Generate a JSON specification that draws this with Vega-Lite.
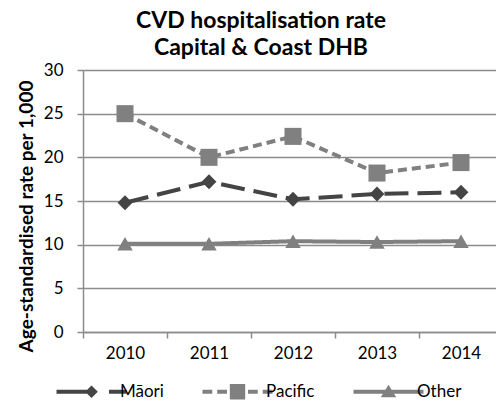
{
  "$schema": "https://vega.github.io/schema/vega-lite/v6.json",
  "autosize": {"type": "none"},
  "padding": {"left": 83, "top": 70, "right": 0, "bottom": 71},
  "width": 420,
  "height": 262,
  "background": "white",
  "title": {
    "text": ["CVD hospitalisation rate", "Capital & Coast DHB"],
    "font": "Lato",
    "fontSize": 23,
    "fontWeight": "bold",
    "color": "#000000",
    "anchor": "middle",
    "dx": -32,
    "offset": 1,
    "lineHeight": 27
  },
  "data": {
    "values": [
      {"year": "2010", "group": "Māori", "rate": 14.8},
      {"year": "2011", "group": "Māori", "rate": 17.2},
      {"year": "2012", "group": "Māori", "rate": 15.2},
      {"year": "2013", "group": "Māori", "rate": 15.8},
      {"year": "2014", "group": "Māori", "rate": 16.0},
      {"year": "2010", "group": "Pacific", "rate": 25.0},
      {"year": "2011", "group": "Pacific", "rate": 20.0},
      {"year": "2012", "group": "Pacific", "rate": 22.4},
      {"year": "2013", "group": "Pacific", "rate": 18.2},
      {"year": "2014", "group": "Pacific", "rate": 19.4},
      {"year": "2010", "group": "Other", "rate": 10.1},
      {"year": "2011", "group": "Other", "rate": 10.1},
      {"year": "2012", "group": "Other", "rate": 10.4},
      {"year": "2013", "group": "Other", "rate": 10.3},
      {"year": "2014", "group": "Other", "rate": 10.4}
    ]
  },
  "encoding": {
    "x": {
      "field": "year",
      "type": "ordinal",
      "scale": {"type": "band", "paddingInner": 0, "paddingOuter": 0},
      "axis": {
        "title": null,
        "labelAngle": 0,
        "labelFont": "Lato",
        "labelFontSize": 17,
        "labelColor": "#000000",
        "labelPadding": 7,
        "domainColor": "#8c8c8c",
        "domainWidth": 1.5,
        "tickColor": "#8c8c8c",
        "tickWidth": 1.5,
        "tickSize": 6,
        "tickOffset": -42,
        "labelOffset": 42,
        "grid": false
      }
    },
    "y": {
      "field": "rate",
      "type": "quantitative",
      "scale": {"domain": [0, 30], "nice": false},
      "axis": {
        "title": "Age-standardised  rate per 1,000",
        "titleFont": "Lato",
        "titleFontSize": 19,
        "titleFontWeight": "bold",
        "titleColor": "#000000",
        "titleX": -57,
        "titleY": 146,
        "titleAngle": -90,
        "titleAlign": "center",
        "titleBaseline": "middle",
        "values": [0, 5, 10, 15, 20, 25, 30],
        "labelFont": "Lato",
        "labelFontSize": 17,
        "labelColor": "#000000",
        "labelPadding": 14,
        "domainColor": "#8c8c8c",
        "domainWidth": 1.5,
        "tickColor": "#8c8c8c",
        "tickWidth": 1.5,
        "tickSize": 6,
        "grid": true,
        "gridColor": "#8c8c8c",
        "gridWidth": 1.5
      }
    },
    "color": {
      "field": "group",
      "type": "nominal",
      "sort": ["Māori", "Pacific", "Other"],
      "scale": {"domain": ["Māori", "Pacific", "Other"], "range": ["#444444", "#808080", "#808080"]},
      "legend": {
        "title": null,
        "orient": "none",
        "legendX": -30,
        "legendY": 313,
        "direction": "horizontal",
        "labelFont": "Lato",
        "labelFontSize": 17,
        "labelColor": "#000000",
        "symbolSize": 196,
        "symbolStrokeWidth": 0,
        "symbolOffset": 30,
        "labelOffset": 20,
        "columnPadding": 35,
        "encode": {
          "symbols": {
            "update": {
              "shape": {"signal": "datum.value === 'Māori' ? 'M-5,-0.28H0V0.28H-5ZM0,-0.9L0.9,0L0,0.9L-0.9,0ZM2.5,-0.28H5V0.28H2.5Z' : datum.value === 'Pacific' ? 'M-5,-0.28H-3.6V0.28H-5ZM-2.9,-0.28H-1.5V0.28H-2.9ZM-1.1,-1.1H1.1V1.1H-1.1ZM1.5,-0.28H2.9V0.28H1.5ZM3.6,-0.28H5V0.28H3.6Z' : 'M-5,-0.28H5V0.28H-5ZM0,-1L1.1,0.8H-1.1Z'"},
              "size": {"value": 196},
              "fill": {"scale": "color", "field": "value"},
              "strokeWidth": {"value": 0},
              "fillOpacity": {"value": 1},
              "opacity": {"value": 1}
            }
          }
        }
      }
    }
  },
  "layer": [
    {
      "mark": {"type": "line", "strokeWidth": 4},
      "encoding": {
        "strokeDash": {
          "field": "group",
          "type": "nominal",
          "scale": {"domain": ["Māori", "Pacific", "Other"], "range": [[24, 9], [9, 5], [1, 0]]},
          "legend": null
        }
      }
    },
    {
      "transform": [{"filter": {"field": "group", "equal": "Māori"}}],
      "mark": {"type": "point", "filled": true, "opacity": 1, "shape": "diamond", "size": 220}
    },
    {
      "transform": [{"filter": {"field": "group", "equal": "Pacific"}}],
      "mark": {"type": "point", "filled": true, "opacity": 1, "shape": "square", "size": 290}
    },
    {
      "transform": [{"filter": {"field": "group", "equal": "Other"}}],
      "mark": {"type": "point", "filled": true, "opacity": 1, "shape": "triangle-up", "size": 240}
    }
  ]
}
